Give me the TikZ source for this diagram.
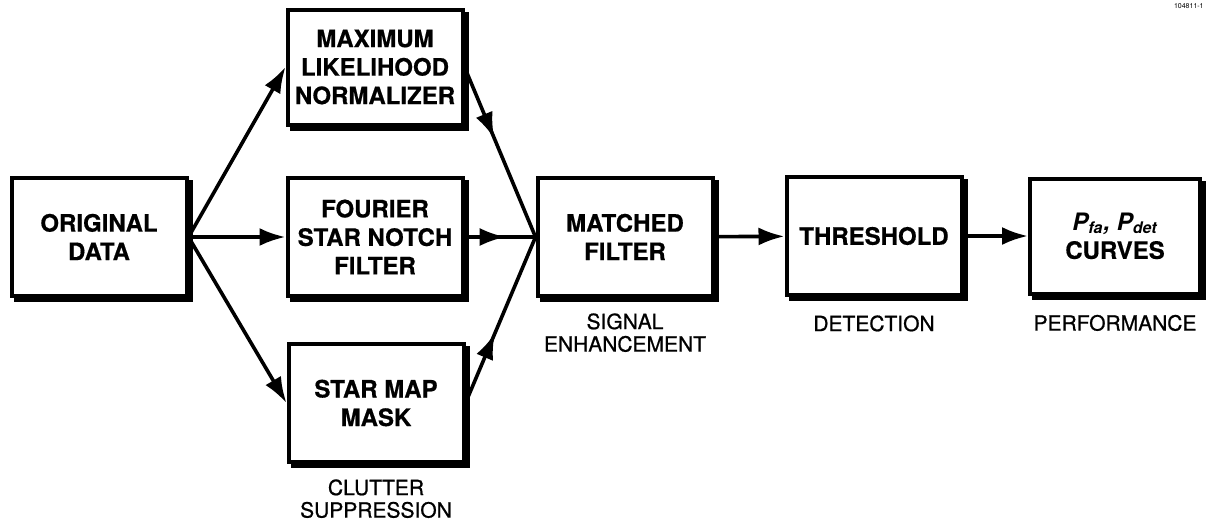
\documentclass[tikz,border=0pt]{standalone}
\usepackage{fontspec}
\setmainfont{TeX Gyre Heros}
\newfontfamily\boxfont{TeX Gyre Heros}[BoldFeatures={FakeBold=0.6}]
\newfontfamily\notefont{TeX Gyre Heros}[BoldFont={*}, BoldFeatures={FakeBold=0.8}]
\usetikzlibrary{%
		arrows.meta%
		,positioning%
		,shadows%
		,decorations.markings%
	}

\tikzset{
	block/.style={draw, line width=2pt, fill=white, minimum width=87.5pt, minimum height=59pt, align=center, inner sep=0pt,
		font=\boxfont\fontsize{12}{14.25}\selectfont\bfseries,
		copy shadow={shadow xshift=2pt, shadow yshift=-2pt, fill=black, draw=black}},
	stagenote/.style={align=center, inner sep=0pt, font=\notefont\fontsize{10.5}{11.25}\selectfont\bfseries},
	flow/.style={line width=1.8pt, -{Latex[length=13pt,width=9pt]}},
	midflow/.style={line width=1.8pt, postaction={decorate},
		decoration={markings, mark=at position #1 with {\arrow{Latex[length=13pt,width=9pt]}}}},
}

\begin{document}
\begin{tikzpicture}[x=0.5pt, y=-0.5pt]
			\useasboundingbox (0,0) rectangle (1208,525);

			\node[block] (orig) at (99,237) {ORIGINAL\\DATA};
			\node[block, minimum height=57.5pt] (mlnorm) at (375,67) {MAXIMUM\\LIKELIHOOD\\NORMALIZER};
			\node[block] (fourier) at (375,237) {FOURIER\\STAR NOTCH\\FILTER};
			\node[block] (starmap) at (376,403) {STAR MAP\\MASK};
			\node[block] (matched) at (625,237) {MATCHED\\FILTER};
			\node[block] (thresh) at (874,236) {THRESHOLD};
			\node[block, minimum width=85pt, minimum height=57.5pt] (curves) at (1115,236) {\textit{P\textsubscript{fa}, P\textsubscript{det}}\\CURVES};

			\node[stagenote, below=7.5pt of starmap] (clutter) {CLUTTER\\SUPPRESSION};
			\node[stagenote, below=7.5pt of matched] (enhance) {SIGNAL\\ENHANCEMENT};
			\node[stagenote, below=9pt of thresh] (detect) {DETECTION};
			\node[stagenote, below=9.5pt of curves] (perform) {PERFORMANCE};

			\node[anchor=north east, inner sep=0pt, font=\fontsize{3.5}{4}\selectfont] (fignum) at (1204,3) {104811-1};

			\foreach \dest in {mlnorm, fourier, starmap}{
				\draw[flow] (orig.east) -- (\dest.west);
			}
			\draw[midflow=0.42] (mlnorm.east) -- (matched.west);
			\draw[midflow=0.58] (fourier.east) -- (matched.west);
			\draw[midflow=0.42] (starmap.east) -- (matched.west);
			\draw[flow] (matched) -- (thresh);
			\draw[flow] (thresh) -- (curves);
		\end{tikzpicture}
\end{document}
